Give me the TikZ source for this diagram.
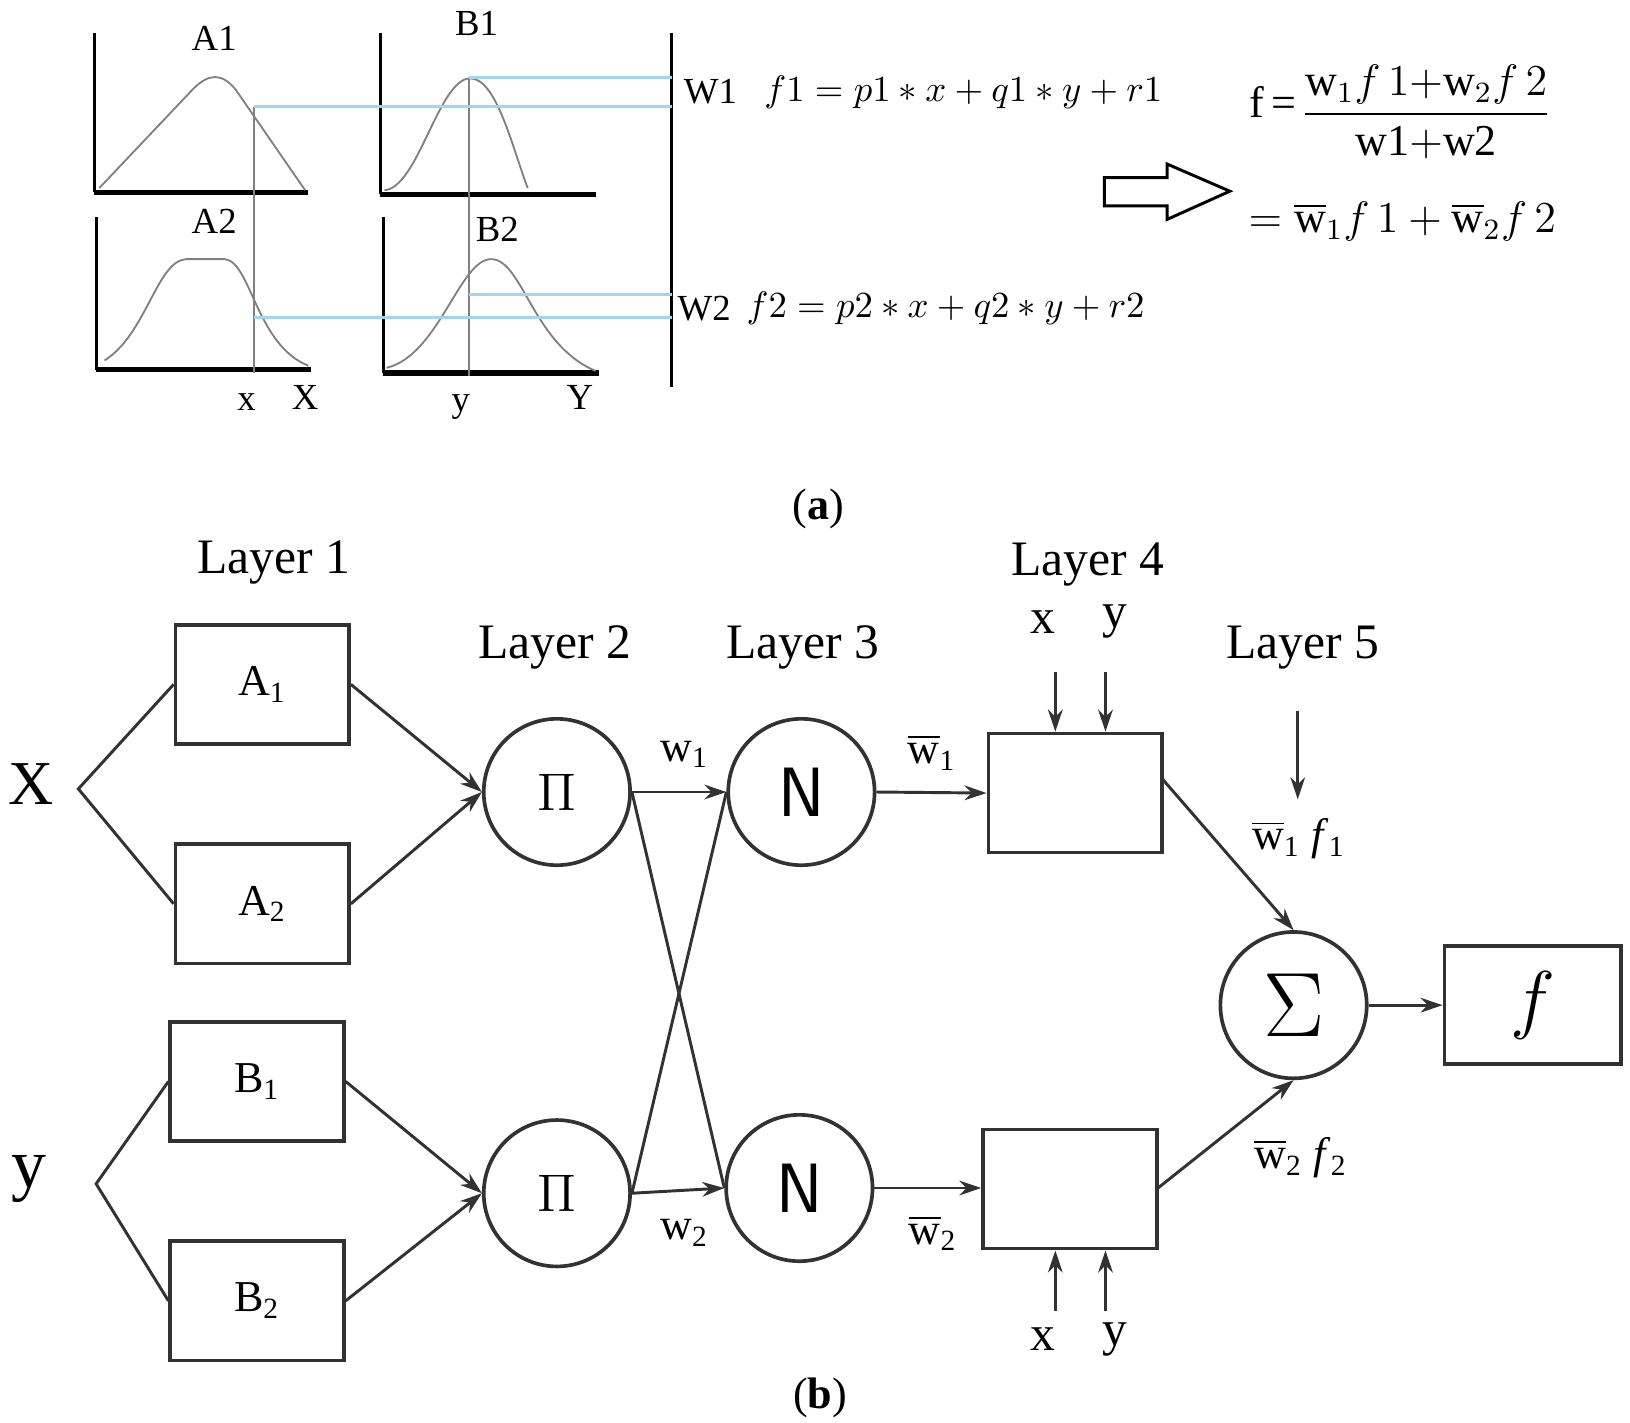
\documentclass[tikz,border=0pt]{standalone}
\usepackage{amsmath}
\usepackage{fontspec}
\setmainfont{Liberation Serif}
\usetikzlibrary{arrows.meta}
\definecolor{lblue}{RGB}{160,215,238}
\definecolor{ln}{RGB}{50,50,50}
\begin{document}
\begin{tikzpicture}[x=0.01cm,y=-0.01cm,
  ax/.style={line width=0.8pt},
  axb/.style={line width=1.4pt},
  crv/.style={gray,line width=0.5pt},
  bl/.style={lblue,line width=0.8pt},
  lab/.style={font=\fontsize{10}{12}\selectfont},
  lay/.style={font=\fontsize{13.5}{16}\selectfont},
  sm/.style={font=\fontsize{12}{14}\selectfont},
  box/.style={draw=ln,line width=1pt,minimum width=1.66cm,minimum height=1.14cm},
  circ/.style={draw=ln,circle,line width=1pt,minimum size=1.4cm,inner sep=0pt},
  arr/.style={ln,-{Stealth[length=6pt,width=4pt]},line width=0.8pt},
  con/.style={ln,line width=0.8pt}]
\useasboundingbox (0,0) rectangle (1560,1361);
% ---------- (a)
\draw[ax] (90,32) -- (90,184); \draw[axb] (90,184) -- (295,184);
\draw[ax] (364,32) -- (364,186); \draw[axb] (364,186) -- (570,186);
\draw[ax] (92,208) -- (92,354); \draw[axb] (92,354) -- (298,354);
\draw[ax] (367,208) -- (367,357); \draw[axb] (367,357) -- (573,357);
\draw[ax] (643,32) -- (643,370);
\draw[crv] (95,180) -- (185,85) .. controls (200,70) and (212,70) .. (225,85) -- (292,182);
\draw[crv] (368,182) .. controls (400,180) and (420,75) .. (450,75) .. controls (475,75) and (490,140) .. (505,180);
\draw[crv] (100,345) .. controls (140,320) and (150,250) .. (178,248) -- (215,248) .. controls (240,250) and (245,330) .. (295,350);
\draw[crv] (370,352) .. controls (420,340) and (440,248) .. (470,248) .. controls (500,248) and (510,330) .. (570,355);
\draw[gray,line width=0.5pt] (243,102) -- (243,357);
\draw[gray,line width=0.5pt] (449,75) -- (449,360);
\draw[bl] (449,74) -- (643,74); \draw[bl] (243,102) -- (643,102);
\draw[bl] (449,282) -- (643,282); \draw[bl] (243,304) -- (643,304);
\node[lab] (tA1) at (205,37) {A1}; \node[lab] (tB1) at (456,22) {B1};
\node[lab] (tA2) at (205,212) {A2}; \node[lab] (tB2) at (476,220) {B2};
\node[lab] (tx) at (236,385) {x}; \node[lab] (tX) at (292,380) {X};
\node[lab] (ty) at (441,390) {y}; \node[lab] (tY) at (555,380) {Y};
\node[lab] (W1) at (680,88) {W1}; \node[lab] (W2) at (674,295) {W2};
\node[font=\fontsize{10}{12}\selectfont] (f1) at (922,88) {$f1=p1*x+q1*y+r1$};
\node[font=\fontsize{10}{12}\selectfont] (f2) at (905,295) {$f2=p2*x+q2*y+r2$};
\node[sm] (feq) at (1218,98) {f\,=};
\node[sm] (frac) at (1365,107) {$\dfrac{\mathrm{w}_1 f\,1{+}\mathrm{w}_2 f\,2}{\mathrm{w1{+}w2}}$};
\node[sm] (f2l) at (1342,212) {$=\overline{\mathrm{w}}_1 f\,1+\overline{\mathrm{w}}_2 f\,2$};
\draw[line width=0.8pt] (1057,170) -- (1117,170) -- (1117,157) -- (1177,183) -- (1117,210) -- (1117,197) -- (1057,197) -- cycle;
\node[sm] (ca) at (783,487) {(\textbf{a})};
% ---------- (b)
\node[lay] (L1) at (262,538) {Layer 1};
\node[lay] (L2) at (531,620) {Layer 2};
\node[lay] (L3) at (768,620) {Layer 3};
\node[lay] (L4) at (1041,540) {Layer 4};
\node[lay] (L5) at (1247,620) {Layer 5};
\node[font=\fontsize{17}{19}\selectfont] (X) at (30,750) {X};
\node[font=\fontsize{19}{21}\selectfont] (Y) at (28,1128) {y};
\coordinate (bx) at (75,755); \coordinate (by) at (92,1133);
\node[box] (A1) at (251,655) {\fontsize{12}{14}\selectfont A\textsubscript{1}};
\node[box] (A2) at (251,865) {\fontsize{12}{14}\selectfont A\textsubscript{2}};
\node[box] (B1) at (246,1035) {\fontsize{12}{14}\selectfont B\textsubscript{1}};
\node[box] (B2) at (246,1245) {\fontsize{12}{14}\selectfont B\textsubscript{2}};
\draw[con] (A1.west) -- (bx) -- (A2.west);
\draw[con] (B1.west) -- (by) -- (B2.west);
\node[circ] (P1) at (533,758) {\fontsize{15}{17}\selectfont$\Pi$};
\node[circ] (P2) at (533,1142) {\fontsize{15}{17}\selectfont$\Pi$};
\node[circ,font=\sffamily\fontsize{19}{21}\selectfont] (N1) at (767,758) {N};
\node[circ,font=\sffamily\fontsize{19}{21}\selectfont] (N2) at (765,1137) {N};
\draw[arr] (A1.east) -- (P1.west);
\draw[arr] (A2.east) -- (P1.west);
\draw[arr] (B1.east) -- (P2.west);
\draw[arr] (B2.east) -- (P2.west);
\draw[arr] (P1.east) -- (N1.west);
\draw[arr] (P2.east) -- (N2.west);
\draw[con] (P1.east) -- (N2.west);
\draw[con] (P2.east) -- (N1.west);
\node[sm] (lw1) at (655,722) {w\textsubscript{1}};
\node[sm] (lw2) at (655,1180) {w\textsubscript{2}};
\node[box] (Q1) at (1029,759) {};
\node[box] (Q2) at (1024,1138) {};
\draw[arr] (N1.east) -- (Q1.west);
\draw[arr] (N2.east) -- (N2.east -| Q2.west);
\node[sm] (lb1) at (892,720) {$\overline{\mathrm{w}}$\textsubscript{1}};
\node[sm] (lb2) at (893,1180) {$\overline{\mathrm{w}}$\textsubscript{2}};
\node[lay] (x1) at (998,595) {x}; \node[lay] (y1) at (1067,595) {y};
\node[lay] (x2) at (998,1282) {x}; \node[lay] (y2) at (1067,1282) {y};
\coordinate (a1) at (1010,643); \coordinate (a2) at (1058,643);
\coordinate (a3) at (1010,1255); \coordinate (a4) at (1058,1255);
\draw[arr] (a1) -- (a1 |- Q1.north);
\draw[arr] (a2) -- (a2 |- Q1.north);
\draw[arr] (a3) -- (a3 |- Q2.south);
\draw[arr] (a4) -- (a4 |- Q2.south);
\node[circ] (S) at (1238,962) {\fontsize{26}{28}\selectfont$\Sigma$};
\coordinate (sa) at (1242,680);
\draw[arr] (sa) -- (1242,765);
\draw[arr] (1112,745) -- (S.north);
\draw[arr] (1107,1138) -- (S.south);
\node[sm] (lf1) at (1243,803) {$\overline{\mathrm{w}}$\textsubscript{1} \textit{f}\textsubscript{1}};
\node[sm] (lf2) at (1245,1108) {$\overline{\mathrm{w}}$\textsubscript{2} \textit{f}\textsubscript{2}};
\node[draw=ln,line width=1pt,minimum width=1.69cm,minimum height=1.13cm,font=\fontsize{22}{24}\selectfont] (F) at (1467,962) {$f$};
\draw[arr] (S.east) -- (F.west);
\node[sm] (cb) at (785,1338) {(\textbf{b})};
\end{tikzpicture}
\end{document}
